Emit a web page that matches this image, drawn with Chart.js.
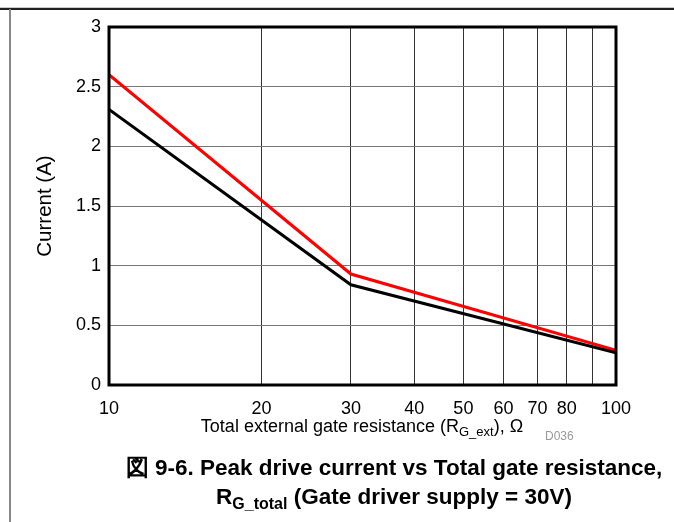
<!DOCTYPE html>
<html>
<head>
<meta charset="utf-8">
<script src="https://cdn.jsdelivr.net/npm/chart.js@4/dist/chart.umd.min.js"></script>
<style>
  html, body { margin: 0; padding: 0; background: #fff; }
  body { width: 674px; height: 522px; position: relative; overflow: hidden; font-family: "Liberation Sans", Arial, sans-serif; }
  #frame_top { position: absolute; left: 0; top: 7px; width: 674px; height: 1px; background: #ccc; }
  #frame_top2 { position: absolute; left: 0; top: 8px; width: 674px; height: 2px; background: #222; }
  #frame_left { position: absolute; left: 9px; top: 9px; width: 2px; height: 513px; background: #888; }
  #wrap { position: absolute; left: 0; top: 0; width: 674px; height: 522px; }
  #x_title { position: absolute; left: 62px; width: 600px; top: 416px; text-align: center; font-size: 18px; color: #000; white-space: nowrap; }
  #x_title sub { font-size: 13px; vertical-align: -4px; }
  #tag { position: absolute; left: 545px; top: 429px; font-size: 12px; color: #999; }
  .cap { position: absolute; left: 62px; width: 664px; text-align: center; font-weight: bold; font-size: 22.5px; color: #000; white-space: nowrap; }
  #cap1 { top: 452px; }
  #cap2 { top: 484px; }
  .cap sub { font-size: 16px; vertical-align: -5px; }
</style>
</head>
<body>
<div id="frame_top"></div>
<div id="frame_top2"></div>
<div id="frame_left"></div>
<div id="wrap"><canvas id="chart_line" width="674" height="522"></canvas></div>
<div id="x_title">Total external gate resistance (R<sub>G_ext</sub>), &Omega;</div>
<div id="tag">D036</div>
<div class="cap" id="cap1">図 9-6. Peak drive current vs Total gate resistance,</div>
<div class="cap" id="cap2">R<sub>G_total</sub> (Gate driver supply = 30V)</div>
<script>
// data
const resistance = [10, 30, 100];
const current_red = [2.6, 0.93, 0.29];
const current_black = [2.31, 0.84, 0.27];
const x_ticks = [10, 20, 30, 40, 50, 60, 70, 80, 90, 100];
const x_tick_labels = ['10', '20', '30', '40', '50', '60', '70', '80', '', '100'];
const y_ticks = [0, 0.5, 1, 1.5, 2, 2.5, 3];

const to_points = arr => arr.map((v, i) => ({x: resistance[i], y: v}));
const font_family = '"Liberation Sans", Arial, sans-serif';

// draw the box round the plot
const frame_plugin = {
    id: 'frame',
    afterDraw(chart) {
        const a = chart.chartArea;
        const c = chart.ctx;
        c.save();
        c.strokeStyle = '#000';
        c.lineWidth = 3;
        c.strokeRect(a.left, a.top, a.right - a.left, a.bottom - a.top);
        c.restore();
    }
};

const options = {
    responsive: false,
    animation: false,
    layout: {padding: {left: 0, right: 58, top: 27, bottom: 0}},
    plugins: {legend: {display: false}, tooltip: {enabled: false}},
    scales: {
        x: {
            type: 'logarithmic',
            min: 10,
            max: 100,
            afterBuildTicks: s => { s.ticks = x_ticks.map(v => ({value: v})); },
            afterFit: s => { s.height = 137; },
            border: {display: false},
            grid: {color: '#333', lineWidth: 1, drawTicks: false},
            ticks: {
                autoSkip: false,
                maxRotation: 0,
                padding: 13,
                color: '#000',
                font: {family: font_family, size: 18},
                callback: (v, i) => x_tick_labels[i]
            }
        },
        y: {
            min: 0,
            max: 3,
            afterBuildTicks: s => { s.ticks = y_ticks.map(v => ({value: v})); },
            afterFit: s => { s.width = 109; },
            border: {display: false},
            grid: {color: '#777', lineWidth: 1, drawTicks: false},
            ticks: {
                padding: 8,
                color: '#000',
                font: {family: font_family, size: 18},
                callback: v => String(v)
            },
            title: {
                display: true,
                text: 'Current (A)',
                color: '#000',
                font: {family: font_family, size: 20.5},
                padding: {top: 33, bottom: 0}
            }
        }
    }
};

const config_line = {
    type: 'line',
    data: {
        datasets: [
            {data: to_points(current_black), borderColor: '#000', borderWidth: 3, pointRadius: 0, tension: 0, fill: false},
            {data: to_points(current_red), borderColor: '#ff0000', borderWidth: 3, pointRadius: 0, tension: 0, fill: false}
        ]
    },
    options: options,
    plugins: [frame_plugin]
};

const chart_line = new Chart(document.getElementById('chart_line'), config_line);
</script>
</body>
</html>
